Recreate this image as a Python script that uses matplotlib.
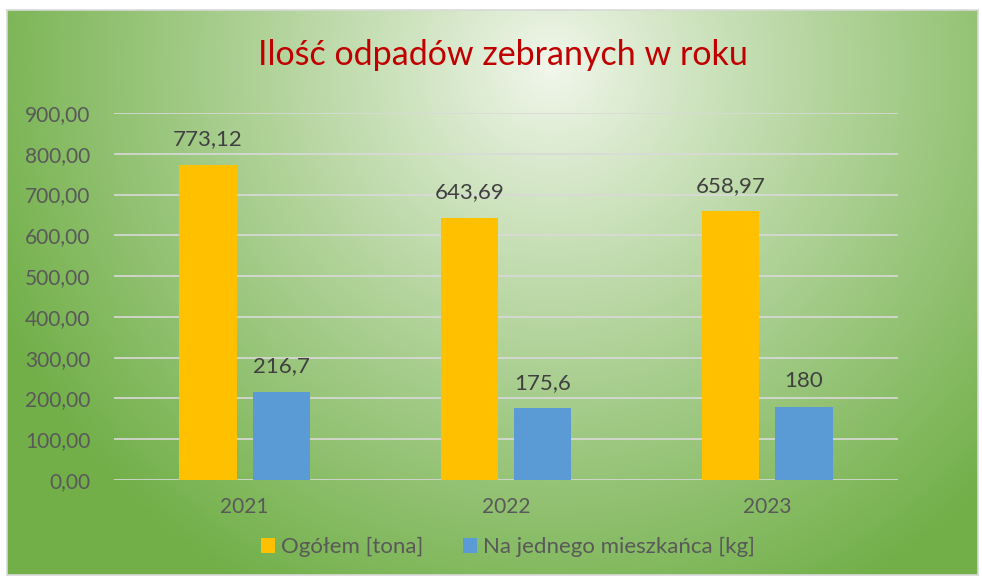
import numpy as np
import matplotlib
matplotlib.use("Agg")
import matplotlib.pyplot as plt
from matplotlib.ticker import FuncFormatter

plt.rcParams["font.family"] = ["Lato", "DejaVu Sans"]

years = ["2021", "2022", "2023"]
ogolem = [773.12, 643.69, 658.97]
na_mieszk = [216.7, 175.6, 180.0]
ogolem_lbl = ["773,12", "643,69", "658,97"]
na_mieszk_lbl = ["216,7", "175,6", "180"]

YELLOW = "#ffc000"
BLUE = "#5b9bd5"
TXT = "#595959"

W, H = 982, 578
fig = plt.figure(figsize=(W / 100, H / 100), dpi=100)
fig.patch.set_facecolor("white")

# background: radial gradient, light center near title, green edges
bg = fig.add_axes([7 / W, 3 / H, 971 / W, 565 / H])
ny, nx = 300, 500
yy, xx = np.mgrid[0:ny, 0:nx]
cx, cy = 0.56 * nx, 0.10 * ny
d = np.sqrt(((xx - cx) / (0.62 * nx)) ** 2 + ((yy - cy) / (1.05 * ny)) ** 2)
t = np.clip(d, 0, 1) ** 0.9
c0 = np.array([0.95, 0.97, 0.93])
c1 = np.array([0.45, 0.69, 0.29])
img = c0[None, None, :] * (1 - t[..., None]) + c1[None, None, :] * t[..., None]
bg.imshow(img, aspect="auto", extent=[0, 1, 0, 1], origin="upper")
bg.set_xticks([]); bg.set_yticks([])
for s in bg.spines.values():
    s.set_color("#d9d9d9"); s.set_linewidth(1.2)

ax = fig.add_axes([114 / W, 98 / H, 784 / W, 367 / H])
ax.patch.set_alpha(0)
x = np.arange(len(years))
w = 0.22
b1 = ax.bar(x - 0.14, ogolem, w, color=YELLOW, zorder=3, label="Ogółem [tona]")
b2 = ax.bar(x + 0.14, na_mieszk, w, color=BLUE, zorder=3, label="Na jednego mieszkańca [kg]")
for bars, lbls in [(b1, ogolem_lbl), (b2, na_mieszk_lbl)]:
    for b, l in zip(bars, lbls):
        ax.text(b.get_x() + b.get_width() / 2, b.get_height() + 38, l,
                ha="center", va="bottom", fontsize=16, color="#404040")

ax.set_ylim(0, 900)
ax.set_xlim(-0.5, 2.5)
ax.set_yticks(np.arange(0, 901, 100))
ax.yaxis.set_major_formatter(FuncFormatter(lambda v, p: f"{v:.2f}".replace(".", ",")))
ax.set_xticks(x)
ax.set_xticklabels(years)
ax.tick_params(length=0, labelsize=15, labelcolor=TXT)
ax.tick_params(axis="y", pad=17)
ax.tick_params(axis="x", pad=12)
ax.grid(axis="y", color="#d9d9d9", lw=1.2, zorder=0)
for s in ax.spines.values():
    s.set_visible(False)

fig.text(503 / W, 1 - 55 / H, "Ilość odpadów zebranych w roku", ha="center", va="center",
         fontsize=24.5, color="#c00000")

leg = fig.legend(handles=[b1, b2], loc="center", bbox_to_anchor=(508 / W, 1 - 547 / H),
                 ncol=2, frameon=False, fontsize=16, handlelength=0.64, handleheight=0.64,
                 handletextpad=0.25, columnspacing=1.8)
for t_ in leg.get_texts():
    t_.set_color(TXT)

fig.savefig("out.png", dpi=100)
